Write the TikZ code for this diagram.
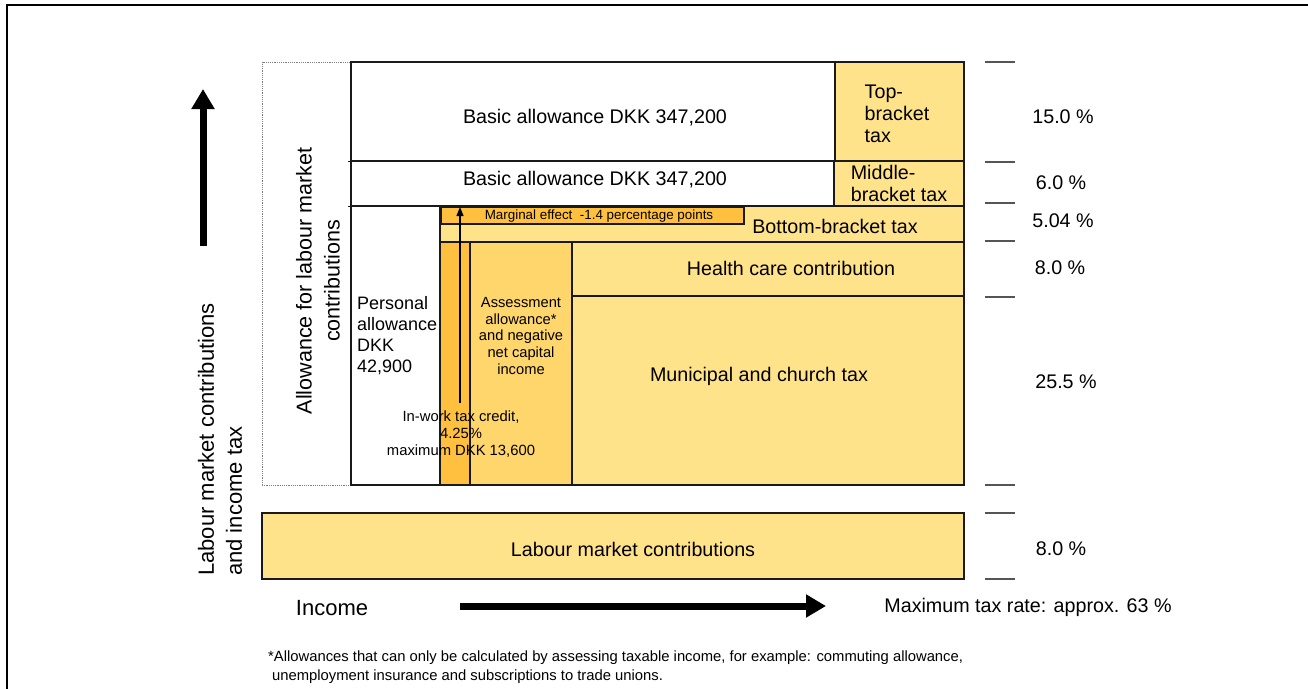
\documentclass[tikz,border=0pt]{standalone}
\usepackage{fontspec}
\setmainfont{Liberation Sans}
\usetikzlibrary{arrows.meta}
\definecolor{ylw}{HTML}{FFE38A}
\definecolor{org}{HTML}{FFC040}
\definecolor{asm}{HTML}{FFD66C}
\definecolor{edge}{HTML}{1A1A1A}
\definecolor{tick}{HTML}{555555}
\tikzset{
  box/.style={draw=edge, line width=1.2pt, inner sep=0pt, outer sep=0pt, anchor=north west},
  txt/.style={inner sep=0pt, outer sep=0pt, font=\fontsize{19.7}{22}\selectfont},
  small/.style={inner sep=0pt, outer sep=0pt, font=\fontsize{14.8}{17}\selectfont, align=center},
  tickline/.style={draw=tick, line width=1.2pt},
  bigarrow/.style={line width=7pt, -{Triangle[length=20pt,width=22pt]}},
}
\begin{document}
\begin{tikzpicture}[x=1pt,y=-1pt]
\useasboundingbox (0,0) rectangle (1308,688);
% frame
\draw[line width=2.5pt] (7,689) -- (7,5) -- (1309,5);
% dotted allowance region
\node[box, draw=gray, densely dotted, line width=0.8pt, minimum width=89pt, minimum height=423pt] (dotbox) at (262,62) {};
% top rows
\node[box, fill=white, minimum width=484pt, minimum height=99pt] (topw) at (351,62) {};
\node[txt] (topwt) at (595,118) {Basic allowance DKK 347,200};
\node[box, fill=ylw, minimum width=129pt, minimum height=99pt] (topb) at (835,62) {};
\node[txt, align=left] (topbt) at (897,114) {Top-\\bracket\\tax};
\node[box, fill=white, minimum width=483pt, minimum height=45pt] (midw) at (351,161) {};
\node[txt] (midwt) at (595,180) {Basic allowance DKK 347,200};
\node[box, fill=ylw, minimum width=130pt, minimum height=45pt, txt, align=left] (midb) at (834,161) {Middle-\\bracket tax};
% lower part
\node[box, fill=white, minimum width=89pt, minimum height=279pt] (pers) at (351,206) {};
\node[box, fill=ylw, minimum width=524pt, minimum height=36pt] (bot) at (440,206) {};
\node[box, fill=org, minimum width=30pt, minimum height=243pt] (orgcol) at (440,242) {};
\node[box, fill=asm, minimum width=102pt, minimum height=243pt] (asmcol) at (470,242) {};
\node[box, fill=ylw, minimum width=392pt, minimum height=54pt] (health) at (572,242) {};
\node[box, fill=ylw, minimum width=392pt, minimum height=189pt] (muni) at (572,296) {};
\node[box, fill=org, minimum width=303pt, minimum height=17pt] (marg) at (441,207) {};
\node[inner sep=0pt, font=\fontsize{13.4}{15}\selectfont] (margt) at (599,216) {Marginal effect\ \ -1.4 percentage points};
\draw[edge, line width=1pt] (348,161) -- (351,161) (348,206) -- (351,206);
% texts inside lower part
\node[txt] (bott) at (835,226) {Bottom-bracket tax};
\node[txt] (healtht) at (791,268) {Health care contribution};
\node[txt] (munit) at (759,376) {Municipal and church tax};
\node[inner sep=0pt, font=\fontsize{18}{21}\selectfont, align=left, anchor=west] (perst) at (357,336) {Personal\\allowance\\DKK\\42,900};
\node[inner sep=0pt, font=\fontsize{14.7}{16.7}\selectfont, align=center] (asmt) at (521,336) {Assessment\\allowance*\\and negative\\net capital\\income};
% in-work arrow
\coordinate (awbot) at (460,403);
\coordinate (awtop) at (460,207);
\draw[line width=1.3pt, -{Triangle[length=9pt,width=7pt]}] (awbot) -- (awtop);
\node[small] (inwork) at (461,434) {In-work tax credit,\\4.25\%\\maximum DKK 13,600};
% labour market contributions
\node[box, fill=ylw, minimum width=702pt, minimum height=66pt] (lmc) at (262,513) {};
\node[txt] (lmct) at (633,549) {Labour market contributions};
% ticks
\foreach \yy in {62,162,203,241,297,485,513,579}
  \draw[tickline] (985,\yy) -- (1015,\yy);
% percentages
\node[txt] (p1) at (1063,117) {15.0 \%};
\node[txt] (p2) at (1061,183) {6.0 \%};
\node[txt] (p3) at (1063,221) {5.04 \%};
\node[txt] (p4) at (1060,268) {8.0 \%};
\node[txt] (p5) at (1066,382) {25.5 \%};
\node[txt] (p6) at (1061,549) {8.0 \%};
% axis labels
\node[inner sep=0pt, font=\fontsize{21.5}{28}\selectfont, align=center, rotate=90] (allow) at (318,281) {Allowance for labour market\\contributions};
\node[inner sep=0pt, font=\fontsize{22}{28}\selectfont, align=left, rotate=90, anchor=west] (ylab) at (220,576) {Labour market contributions\\and income tax};
\coordinate (vb) at (203,246);
\coordinate (vt) at (203,89);
\draw[bigarrow] (vb) -- (vt);
\node[inner sep=0pt, font=\fontsize{22}{26}\selectfont] (inc) at (332,608) {Income};
\coordinate (hl) at (460,606);
\coordinate (hr) at (826,606);
\draw[bigarrow] (hl) -- (hr);
\node[txt] (maxt) at (1028,607) {Maximum tax rate: approx. 63 \%};
% footnote
\node[inner sep=0pt, font=\fontsize{14.8}{19}\selectfont, align=left, anchor=north west] (foot) at (268,651) {*Allowances that can only be calculated by assessing taxable income, for example: commuting allowance,\\\hspace*{4pt}unemployment insurance and subscriptions to trade unions.};
\end{tikzpicture}
\end{document}
